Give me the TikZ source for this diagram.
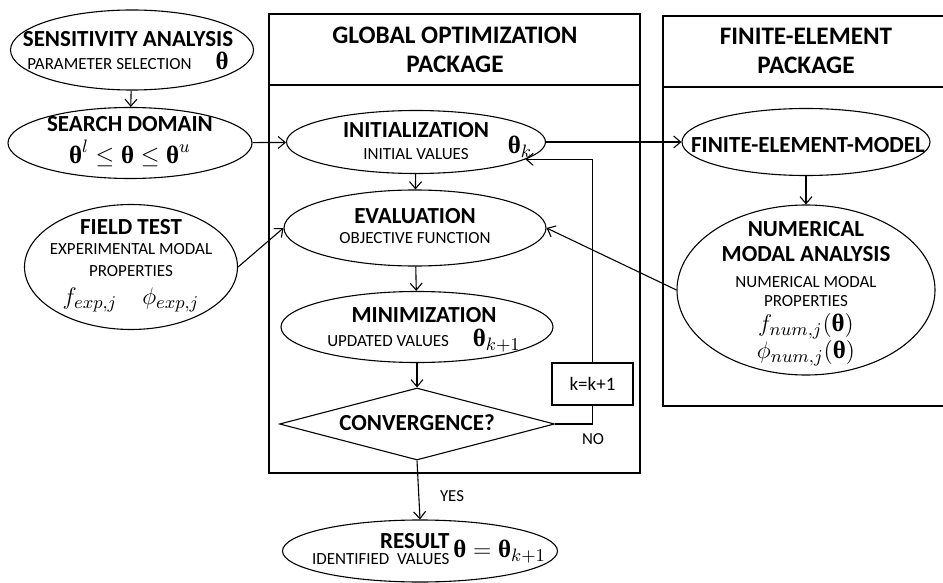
\documentclass[tikz,border=0pt]{standalone}
\usepackage{amsmath,amssymb}
\usepackage{fontspec}
\setmainfont{Carlito}
\newfontfamily\thetafont{Liberation Serif}
\usepackage{tikz}
\usetikzlibrary{positioning,arrows.meta,shapes.geometric,calc}
\newcommand{\nodetitle}[1]{{\fontsize{11.5}{14}\selectfont\bfseries #1}}
\newcommand{\nodesub}[1]{{\fontsize{8.5}{9.5}\selectfont #1}}
\newcommand{\nodemath}[1]{{\fontsize{12.5}{13.5}\selectfont$#1$}}
\newcommand{\bth}{\mbox{\thetafont\bfseries θ}}
\tikzset{
  step-node/.style={draw, ellipse, line width=0.55pt, inner sep=0pt},
  step-text/.style={inner sep=0pt, align=center, font=\fontsize{12}{14}\selectfont},
  check-node/.style={draw, diamond, line width=0.55pt, inner sep=0pt, aspect=3.8},
  count-node/.style={draw, rectangle, line width=0.55pt, inner sep=0pt,
    font=\fontsize{9.5}{11}\selectfont},
  package-box/.style={draw, line width=1.4pt},
  package-head/.style={font=\fontsize{12.6}{14.5}\selectfont\bfseries, align=center},
  flow-arrow/.style={-{Straight Barb[length=3.5pt,width=6pt]}, line width=0.55pt},
  flow-line/.style={line width=0.55pt},
  side-label/.style={font=\fontsize{8.4}{9}\selectfont}
}
\begin{document}
\begin{tikzpicture}[x=0.5pt, y=-0.5pt]
\useasboundingbox (0,0) rectangle (943,583);
\clip (0,0) rectangle (943,583);

% Package frames
\draw[package-box] (269,14) rectangle (640,473);
\draw[package-box] (269,85) -- (640,85);
\node[package-head] (gohead) at (455,50) {GLOBAL OPTIMIZATION\\PACKAGE};
\draw[package-box] (663,16) rectangle (950,406);
\draw[package-box] (663,87) -- (950,87);
\node[package-head] (fehead) at (806,51) {FINITE-ELEMENT\\PACKAGE};

% Left column
\node[step-node, minimum width=121.5pt, minimum height=40pt] (sens) at (132,50) {};
\node[step-text] (sens-txt) at (128,51)
  {\nodetitle{SENSITIVITY ANALYSIS}\\[-2.5pt] \nodesub{PARAMETER SELECTION}\quad\nodemath{\bth}};
\node[step-node, minimum width=122pt, minimum height=35.5pt] (search) at (130,143) {};
\node[step-text] (search-txt) at (130,142)
  {\nodetitle{SEARCH DOMAIN}\\[2pt] \nodemath{\bth^l \le \bth \le \bth^u}};
\node[step-node, minimum width=106.5pt, minimum height=62.5pt] (field) at (131,267) {};
\node[step-text] (field-txt) at (131,266)
  {\nodetitle{FIELD TEST}\\[-4pt] \nodesub{EXPERIMENTAL MODAL}\\[-3pt] \nodesub{PROPERTIES}\\[0pt]
   \nodemath{f_{exp,j}\quad \phi_{exp,j}}};

% Optimization loop
\node[step-node, minimum width=129.5pt, minimum height=31.5pt] (init) at (416,142) {};
\node[step-text] (init-txt) at (416,141)
  {\nodetitle{INITIALIZATION}\\[-3pt] \nodesub{INITIAL VALUES}};
\node[step-text] (thk) at (520,147) {\nodemath{\bth_k}};
\node[step-node, minimum width=131pt, minimum height=38pt] (eval) at (415,228) {};
\node[step-text] (eval-txt) at (415,226)
  {\nodetitle{EVALUATION}\\[-4pt] \nodesub{OBJECTIVE FUNCTION}};
\node[step-node, minimum width=136pt, minimum height=35.5pt] (mini) at (417,327) {};
\node[step-text] (mini-txt) at (424,330)
  {\nodetitle{MINIMIZATION}\\[-2pt] \nodesub{UPDATED VALUES}\quad\nodemath{\bth_{k+1}}};
\node[check-node, minimum width=137.5pt, minimum height=36pt] (conv) at (417,424) {};
\node[step-text] (conv-txt) at (417,423) {\nodetitle{CONVERGENCE?}};
\node[count-node, minimum width=40.5pt, minimum height=21pt] (kinc) at (592.5,384) {k=k+1};
\node[side-label] (nolab) at (593,439) {NO};
\node[step-node, minimum width=137.5pt, minimum height=31pt] (result) at (420,551) {};
\node[step-text] (result-txt) at (429,551)
  {\begin{tabular}{@{}r@{}}\nodetitle{RESULT}\\[-6pt]\nodesub{IDENTIFIED\ \ VALUES}\end{tabular}\,\nodemath{\bth=\bth_{k+1}}};
\node[side-label] (yeslab) at (452,496) {YES};

% Finite-element side
\node[step-node, minimum width=124pt, minimum height=33.5pt] (femodel) at (806,142) {};
\node[step-text] (femodel-txt) at (808,145) {\nodetitle{FINITE-ELEMENT-MODEL}};
\node[step-node, minimum width=129pt, minimum height=85pt] (nma) at (806,290) {};
\node[step-text] (nma-txt) at (806,294)
  {\nodetitle{NUMERICAL}\\[-1.5pt] \nodetitle{MODAL ANALYSIS}\\[-1pt] \nodesub{NUMERICAL MODAL}\\[-4.5pt] \nodesub{PROPERTIES}\\[-1.5pt]
   \nodemath{f_{num,j}(\bth)}\\[-0.5pt] \nodemath{\phi_{num,j}(\bth)}};

% Connectors
\draw[flow-arrow] (sens) -- (search);
\draw[flow-arrow] (search) -- (init);
\draw[flow-arrow] (field.east) -- (eval.west);
\draw[flow-arrow] (init) -- (eval);
\draw[flow-arrow] (eval) -- (mini);
\draw[flow-arrow] (mini) -- (conv);
\draw[flow-arrow] (conv.south) -- (result.north);
\draw[flow-line] (conv.east) -| (kinc.south);
\draw[flow-arrow] (kinc.north) |- (init.-9);
\draw[flow-arrow] (init.east) -- (femodel.west);
\draw[flow-arrow] (femodel) -- (nma);
\draw[flow-arrow] (nma.west) -- (eval.east);
\end{tikzpicture}
\end{document}
